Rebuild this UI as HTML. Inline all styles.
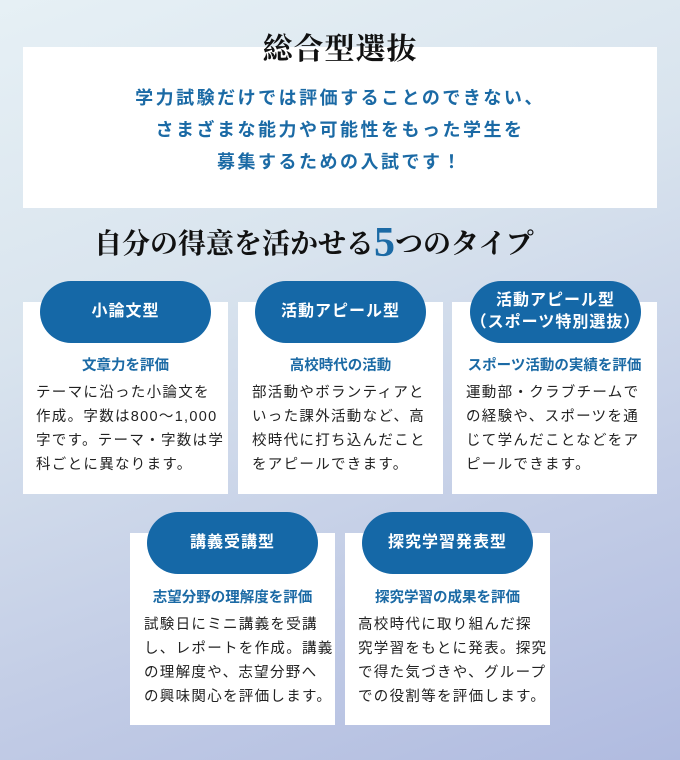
<!DOCTYPE html>
<html><head><meta charset="utf-8"><style>
*{margin:0;padding:0;box-sizing:border-box}
body{width:680px;height:760px;overflow:hidden;position:relative;background:linear-gradient(160deg,#e6f0f5 0%,#d9e4ee 35%,#c3cde6 70%,#b0bbe0 100%);font-family:"Liberation Sans","Noto Sans CJK JP",sans-serif}
.abs{position:absolute}
.box{left:23px;top:47px;width:634px;height:161px;background:#fff}
.title{left:0;width:680px;top:24px;text-align:center;font-family:"Liberation Serif","Noto Serif CJK SC",serif;font-weight:bold;font-size:30px;color:#111;letter-spacing:1px}
.lead{left:0;width:680px;top:82px;text-align:center;color:#1b6aa5;font-weight:bold;font-size:18px;line-height:32px;letter-spacing:2.5px}
.h2{left:94px;top:222px;font-family:"Liberation Serif","Noto Serif CJK SC",serif;font-weight:bold;font-size:28px;color:#111;white-space:nowrap}
.h2 b{color:#1b6aa5;font-size:42px;line-height:1;vertical-align:-3px}
.card{background:#fff;width:205px}
.pill{background:#1568a7;color:#fff;width:171px;height:62px;border-radius:31px;display:flex;align-items:center;justify-content:center;text-align:center;font-size:16px;font-weight:bold;line-height:22px;letter-spacing:1px}
.sub{width:205px;text-align:center;color:#1b6aa5;font-weight:bold;font-size:14.5px;white-space:nowrap}
.txt{width:180px;font-size:14.5px;line-height:24px;color:#222;letter-spacing:1.3px;white-space:nowrap}
</style></head><body>
<div class="abs box"></div>
<div class="abs title">総合型選抜</div>
<div class="abs lead">学力試験だけでは評価することのできない、<br>さまざまな能力や可能性をもった学生を<br>募集するための入試です！</div>
<div class="abs h2">自分の得意を活かせる<b>5</b>つのタイプ</div>

<div class="abs card" style="left:23px;top:302px;height:192px"></div>
<div class="abs card" style="left:238px;top:302px;height:192px"></div>
<div class="abs card" style="left:452px;top:302px;height:192px"></div>
<div class="abs pill" style="left:40px;top:281px">小論文型</div>
<div class="abs pill" style="left:255px;top:281px">活動アピール型</div>
<div class="abs pill" style="left:470px;top:281px">活動アピール型<br>（スポーツ特別選抜）</div>
<div class="abs sub" style="left:23px;top:354px">文章力を評価</div>
<div class="abs sub" style="left:238px;top:354px">高校時代の活動</div>
<div class="abs sub" style="left:452px;top:354px">スポーツ活動の実績を評価</div>
<div class="abs txt" style="left:36px;top:381px">テーマに沿った小論文を<br>作成。字数は800～1,000<br>字です。テーマ・字数は学<br>科ごとに異なります。</div>
<div class="abs txt" style="left:252px;top:381px">部活動やボランティアと<br>いった課外活動など、高<br>校時代に打ち込んだこと<br>をアピールできます。</div>
<div class="abs txt" style="left:466px;top:381px">運動部・クラブチームで<br>の経験や、スポーツを通<br>じて学んだことなどをア<br>ピールできます。</div>

<div class="abs card" style="left:130px;top:533px;height:192px"></div>
<div class="abs card" style="left:345px;top:533px;height:192px"></div>
<div class="abs pill" style="left:147px;top:512px">講義受講型</div>
<div class="abs pill" style="left:362px;top:512px">探究学習発表型</div>
<div class="abs sub" style="left:130px;top:586px">志望分野の理解度を評価</div>
<div class="abs sub" style="left:345px;top:586px">探究学習の成果を評価</div>
<div class="abs txt" style="left:144px;top:613px">試験日にミニ講義を受講<br>し、レポートを作成。講義<br>の理解度や、志望分野へ<br>の興味関心を評価します。</div>
<div class="abs txt" style="left:358px;top:613px">高校時代に取り組んだ探<br>究学習をもとに発表。探究<br>で得た気づきや、グループ<br>での役割等を評価します。</div>
</body></html>
